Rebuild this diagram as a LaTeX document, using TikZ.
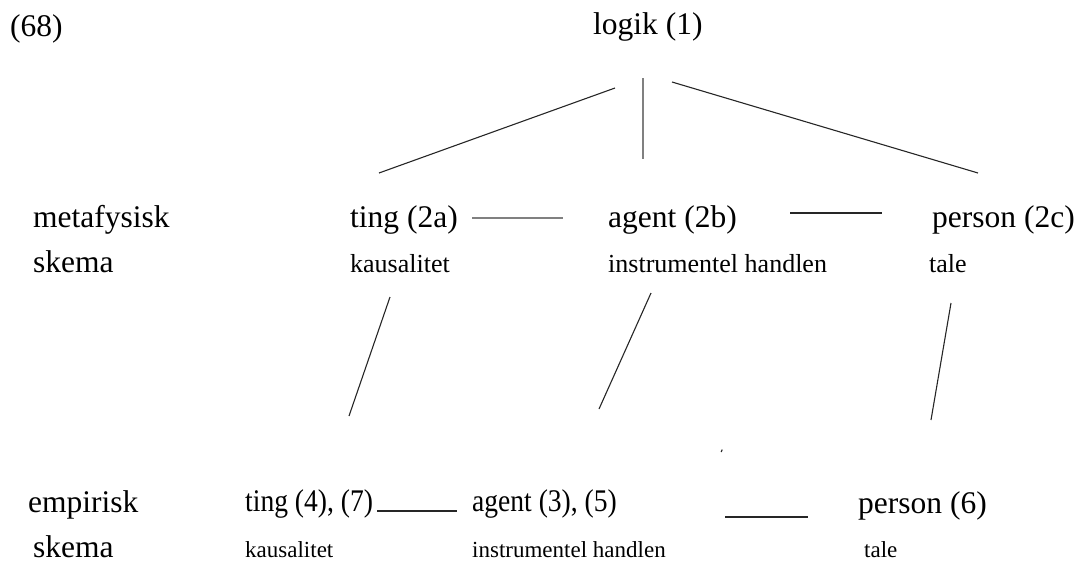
\documentclass[tikz,border=0pt]{standalone}
\usepackage{fontspec}
\setmainfont{Liberation Serif}
\begin{document}
\begin{tikzpicture}[x=1pt,y=-1pt,
  big/.style={anchor=base west,inner sep=0pt,font=\fontsize{31.5}{36}\selectfont},
  narrow/.style={big,xscale=0.875,transform shape},
  small/.style={anchor=base west,inner sep=0pt,font=\fontsize{26}{30}\selectfont},
  smaller/.style={anchor=base west,inner sep=0pt,font=\fontsize{23}{27}\selectfont},
  link/.style={line width=1.1pt,black!85},
  glink/.style={line width=1.2pt,black!50}]
\useasboundingbox (0,0) rectangle (1082,563);

% header
\node[big] (num) at (10,36) {(68)};
\node[big] (logik) at (593,34) {logik (1)};

% metaphysical level
\node[big] (meta) at (33,227) {metafysisk};
\node[big] (skemaA) at (33,272) {skema};
\node[big] (tingA) at (350,227) {ting (2a)};
\node[big] (agentA) at (608,227) {agent (2b)};
\node[big] (personA) at (932,227) {person (2c)};
\node[small] (kausA) at (350,272) {kausalitet};
\node[small] (instrA) at (608,272) {instrumentel handlen};
\node[small] (taleA) at (929,272) {tale};

% empirical level
\node[big] (emp) at (28,512) {empirisk};
\node[big] (skemaB) at (33,557) {skema};
\node[narrow] (tingB) at (245,511) {ting (4), (7)};
\node[narrow] (agentB) at (472,511) {agent (3), (5)};
\node[big] (personB) at (858,513) {person (6)};
\node[smaller] (kausB) at (245,557) {kausalitet};
\node[smaller] (instrB) at (472,557) {instrumentel handlen};
\node[smaller] (taleB) at (864,557) {tale};

% end points of the connectors
\coordinate (l1) at (615,88);   \coordinate (l2) at (379,173);
\coordinate (m1) at (643,78);   \coordinate (m2) at (643,159);
\coordinate (r1) at (672,82);   \coordinate (r2) at (978,173);
\coordinate (h1) at (472,218);  \coordinate (h2) at (563,218);
\coordinate (h3) at (790,213);  \coordinate (h4) at (882,213);
\coordinate (d1) at (390,297);  \coordinate (d2) at (349,416);
\coordinate (e1) at (651,293);  \coordinate (e2) at (599,409);
\coordinate (f1) at (951,303);  \coordinate (f2) at (931,420);
\coordinate (k1) at (377,511);  \coordinate (k2) at (457,511);
\coordinate (k3) at (725,517);  \coordinate (k4) at (808,517);
\coordinate (s1) at (721.2,452); \coordinate (s2) at (722.2,449.5);

% logik fans out to the three categories
\draw[link] (l1) -- (l2);
\draw[glink] (m1) -- (m2);
\draw[link] (r1) -- (r2);

% links on the metaphysical level
\draw[glink] (h1) -- (h2);
\draw[link] (h3) -- (h4);

% down to the empirical level
\draw[link] (d1) -- (d2);
\draw[link] (e1) -- (e2);
\draw[link] (f1) -- (f2);
\draw[link] (s1) -- (s2);

% links on the empirical level
\draw[link] (k1) -- (k2);
\draw[link] (k3) -- (k4);
\end{tikzpicture}
\end{document}
